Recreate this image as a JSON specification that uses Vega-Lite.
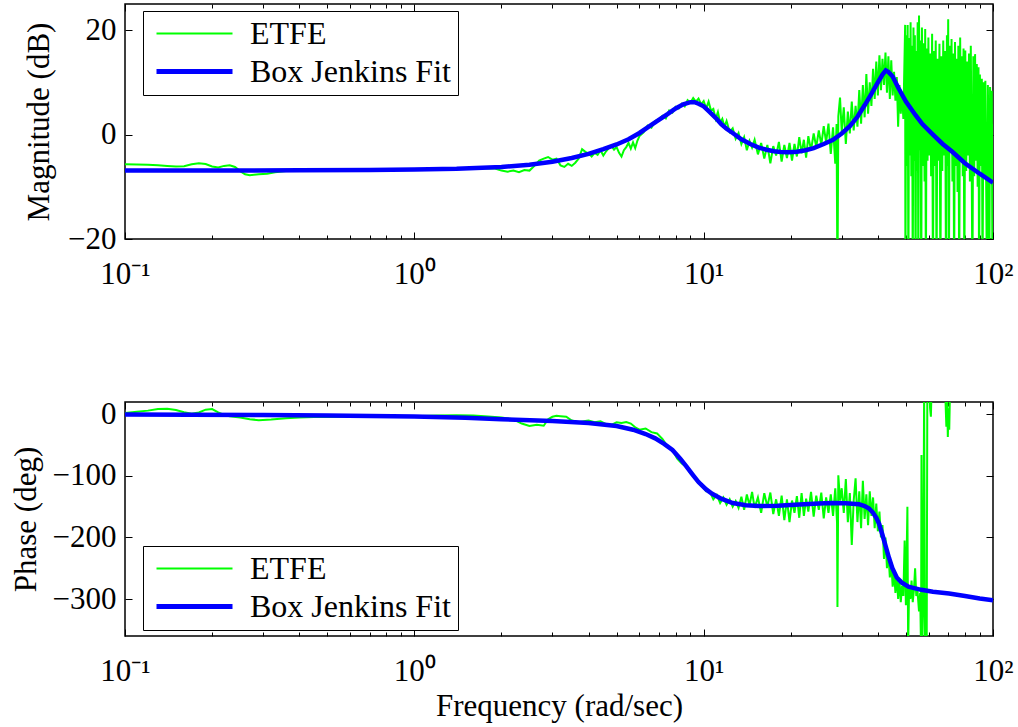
{
  "$schema": "https://vega.github.io/schema/vega-lite/v6.json",
  "background": "white",
  "padding": {"left": 9, "top": 2, "right": 10, "bottom": 5},
  "config": {
    "font": "Liberation Serif, Times New Roman, serif",
    "view": {"stroke": "black", "strokeWidth": 1.5},
    "axis": {
      "labelFont": "Liberation Serif, Times New Roman, serif", "labelFontSize": 31, "labelColor": "black",
      "titleFont": "Liberation Serif, Times New Roman, serif", "titleFontSize": 31, "titleFontWeight": "normal", "titleColor": "black",
      "tickColor": "black", "tickWidth": 1, "domain": false, "grid": false,
      "labelFlush": false, "labelOverlap": false
    },
    "legend": {
      "labelFont": "Liberation Serif, Times New Roman, serif", "labelFontSize": 32, "labelColor": "black", "labelLimit": 400,
      "strokeColor": "black", "fillColor": "white", "padding": 7, "rowPadding": 5,
      "clipHeight": 31, "symbolType": "stroke", "symbolSize": 5776, "symbolOffset": 4, "labelOffset": 15
    }
  },
  "datasets": {
    "magEtfe": [
      {"f":0.1,"v":-5.7,"s":"ETFE"},{"f":0.11,"v":-5.75,"s":"ETFE"},{"f":0.12,"v":-5.8,"s":"ETFE"},{"f":0.13,"v":-5.9,"s":"ETFE"},{"f":0.14,"v":-6.0,"s":"ETFE"},{"f":0.15,"v":-6.1,"s":"ETFE"},{"f":0.16,"v":-6.05,"s":"ETFE"},{"f":0.17,"v":-5.7,"s":"ETFE"},{"f":0.18,"v":-5.5,"s":"ETFE"},{"f":0.19,"v":-5.65,"s":"ETFE"},{"f":0.2,"v":-6.1,"s":"ETFE"},{"f":0.21,"v":-6.3,"s":"ETFE"},{"f":0.22,"v":-6.0,"s":"ETFE"},{"f":0.23,"v":-5.9,"s":"ETFE"},{"f":0.24,"v":-6.2,"s":"ETFE"},{"f":0.25,"v":-7.0,"s":"ETFE"},{"f":0.26,"v":-7.6,"s":"ETFE"},{"f":0.27,"v":-7.8,"s":"ETFE"},{"f":0.29,"v":-7.6,"s":"ETFE"},{"f":0.31,"v":-7.5,"s":"ETFE"},{"f":0.33,"v":-7.2,"s":"ETFE"},{"f":0.36,"v":-7.0,"s":"ETFE"},{"f":0.4,"v":-7.0,"s":"ETFE"},{"f":0.5,"v":-7.0,"s":"ETFE"},{"f":0.6,"v":-6.9,"s":"ETFE"},{"f":0.7,"v":-6.9,"s":"ETFE"},{"f":0.8,"v":-6.85,"s":"ETFE"},{"f":0.9,"v":-6.8,"s":"ETFE"},
      {"f":1,"v":-6.75,"s":"ETFE"},{"f":1.1,"v":-6.7,"s":"ETFE"},{"f":1.2,"v":-6.65,"s":"ETFE"},{"f":1.3,"v":-6.7,"s":"ETFE"},{"f":1.4,"v":-6.6,"s":"ETFE"},{"f":1.5,"v":-6.5,"s":"ETFE"},{"f":1.6,"v":-6.6,"s":"ETFE"},{"f":1.7,"v":-6.4,"s":"ETFE"},{"f":1.8,"v":-6.5,"s":"ETFE"},{"f":1.9,"v":-6.5,"s":"ETFE"},{"f":2,"v":-6.9,"s":"ETFE"},{"f":2.1,"v":-7.1,"s":"ETFE"},{"f":2.2,"v":-6.9,"s":"ETFE"},{"f":2.3,"v":-7.2,"s":"ETFE"},{"f":2.4,"v":-6.8,"s":"ETFE"},{"f":2.5,"v":-6.9,"s":"ETFE"},{"f":2.6,"v":-6.0,"s":"ETFE"},{"f":2.7,"v":-5.0,"s":"ETFE"},{"f":2.8,"v":-4.6,"s":"ETFE"},{"f":2.9,"v":-4.3,"s":"ETFE"},{"f":3,"v":-4.8,"s":"ETFE"},{"f":3.1,"v":-4.6,"s":"ETFE"},{"f":3.2,"v":-5.9,"s":"ETFE"},{"f":3.3,"v":-6.2,"s":"ETFE"},{"f":3.4,"v":-5.6,"s":"ETFE"},{"f":3.5,"v":-6.0,"s":"ETFE"},{"f":3.6,"v":-5.4,"s":"ETFE"},{"f":3.7,"v":-4.6,"s":"ETFE"},{"f":3.8,"v":-2.8,"s":"ETFE"},{"f":3.9,"v":-3.3,"s":"ETFE"},
      {"f":4,"v":-3.6,"s":"ETFE"},{"f":4.1,"v":-4.2,"s":"ETFE"},{"f":4.2,"v":-3.5,"s":"ETFE"},{"f":4.3,"v":-3.9,"s":"ETFE"},{"f":4.4,"v":-3.0,"s":"ETFE"},{"f":4.5,"v":-4.0,"s":"ETFE"},{"f":4.6,"v":-3.2,"s":"ETFE"},{"f":4.7,"v":-2.6,"s":"ETFE"},{"f":4.8,"v":-2.2,"s":"ETFE"},{"f":4.9,"v":-2.9,"s":"ETFE"},{"f":5,"v":-2.4,"s":"ETFE"},{"f":5.1,"v":-3.5,"s":"ETFE"},{"f":5.2,"v":-4.2,"s":"ETFE"},{"f":5.3,"v":-3.0,"s":"ETFE"},{"f":5.4,"v":-2.4,"s":"ETFE"},{"f":5.5,"v":-1.6,"s":"ETFE"},{"f":5.6,"v":-2.7,"s":"ETFE"},{"f":5.7,"v":-1.5,"s":"ETFE"},{"f":5.8,"v":-2.6,"s":"ETFE"},{"f":5.9,"v":-1.2,"s":"ETFE"},{"f":6,"v":-0.3,"s":"ETFE"},{"f":6.2,"v":0.4,"s":"ETFE"},{"f":6.4,"v":1.7,"s":"ETFE"},{"f":6.6,"v":1.3,"s":"ETFE"},{"f":6.8,"v":2.6,"s":"ETFE"},{"f":7,"v":2.9,"s":"ETFE"},{"f":7.2,"v":3.6,"s":"ETFE"},{"f":7.4,"v":3.1,"s":"ETFE"},{"f":7.6,"v":4.6,"s":"ETFE"},{"f":7.8,"v":4.2,"s":"ETFE"},{"f":8,"v":5.3,"s":"ETFE"},{"f":8.2,"v":5.0,"s":"ETFE"},{"f":8.4,"v":5.9,"s":"ETFE"},{"f":8.6,"v":5.4,"s":"ETFE"},{"f":8.8,"v":6.6,"s":"ETFE"},{"f":9,"v":6.1,"s":"ETFE"},{"f":9.2,"v":7.0,"s":"ETFE"},{"f":9.4,"v":6.3,"s":"ETFE"},{"f":9.6,"v":6.9,"s":"ETFE"},{"f":9.8,"v":5.8,"s":"ETFE"},
      {"f":10,"v":6.4,"s":"ETFE"},{"f":10.2,"v":5.0,"s":"ETFE"},{"f":10.4,"v":6.3,"s":"ETFE"},{"f":10.6,"v":4.6,"s":"ETFE"},{"f":10.8,"v":4.9,"s":"ETFE"},{"f":11,"v":3.0,"s":"ETFE"},{"f":11.2,"v":4.3,"s":"ETFE"},{"f":11.4,"v":2.3,"s":"ETFE"},{"f":11.6,"v":3.0,"s":"ETFE"},{"f":11.8,"v":1.5,"s":"ETFE"},{"f":12,"v":2.6,"s":"ETFE"},{"f":12.3,"v":0.5,"s":"ETFE"},{"f":12.6,"v":1.2,"s":"ETFE"},{"f":12.9,"v":-0.8,"s":"ETFE"},{"f":13.2,"v":0.3,"s":"ETFE"},{"f":13.5,"v":-1.8,"s":"ETFE"},{"f":13.8,"v":-0.5,"s":"ETFE"},{"f":14.1,"v":-3.0,"s":"ETFE"},{"f":14.4,"v":-1.2,"s":"ETFE"},{"f":14.7,"v":-2.5,"s":"ETFE"},{"f":15,"v":-1.0,"s":"ETFE"},{"f":15.4,"v":-3.8,"s":"ETFE"},{"f":15.8,"v":-1.6,"s":"ETFE"},{"f":16.2,"v":-4.6,"s":"ETFE"},{"f":16.6,"v":-2.0,"s":"ETFE"},{"f":17,"v":-5.5,"s":"ETFE"},{"f":17.4,"v":-2.2,"s":"ETFE"},{"f":17.8,"v":-4.0,"s":"ETFE"},{"f":18.2,"v":-1.4,"s":"ETFE"},{"f":18.6,"v":-5.2,"s":"ETFE"},{"f":19,"v":-2.0,"s":"ETFE"},{"f":19.4,"v":-4.5,"s":"ETFE"},{"f":19.8,"v":-1.6,"s":"ETFE"},
      {"f":20.2,"v":-5.0,"s":"ETFE"},{"f":20.6,"v":-1.8,"s":"ETFE"},{"f":21,"v":-4.2,"s":"ETFE"},{"f":21.4,"v":-0.5,"s":"ETFE"},{"f":21.8,"v":-3.6,"s":"ETFE"},{"f":22.2,"v":-1.0,"s":"ETFE"},{"f":22.6,"v":-4.4,"s":"ETFE"},{"f":23,"v":-0.3,"s":"ETFE"},{"f":23.5,"v":-3.0,"s":"ETFE"},{"f":24,"v":0.2,"s":"ETFE"},{"f":24.5,"v":-2.4,"s":"ETFE"},{"f":25,"v":0.8,"s":"ETFE"},{"f":25.5,"v":-2.0,"s":"ETFE"},{"f":26,"v":1.6,"s":"ETFE"},{"f":26.5,"v":-1.5,"s":"ETFE"},{"f":27,"v":2.1,"s":"ETFE"},{"f":27.5,"v":-3.7,"s":"ETFE"},{"f":28,"v":1.4,"s":"ETFE"},{"f":28.5,"v":-5.6,"s":"ETFE"},{"f":28.8,"v":2.0,"s":"ETFE"},{"f":29,"v":-30,"s":"ETFE"},{"f":29.2,"v":3.5,"s":"ETFE"},{"f":29.6,"v":7.1,"s":"ETFE"},
      {"f":30,"v":0.5,"s":"ETFE"},{"f":30.5,"v":5.2,"s":"ETFE"},{"f":31,"v":-1.8,"s":"ETFE"},{"f":31.5,"v":4.4,"s":"ETFE"},{"f":32,"v":0.2,"s":"ETFE"},{"f":32.5,"v":6.3,"s":"ETFE"},{"f":33,"v":0.8,"s":"ETFE"},{"f":33.5,"v":5.5,"s":"ETFE"},{"f":34,"v":1.5,"s":"ETFE"},{"f":34.5,"v":8.5,"s":"ETFE"},{"f":35,"v":2.1,"s":"ETFE"},{"f":35.5,"v":9.5,"s":"ETFE"},{"f":36,"v":3.3,"s":"ETFE"},{"f":36.5,"v":11.6,"s":"ETFE"},{"f":37,"v":4.0,"s":"ETFE"},{"f":37.5,"v":10.0,"s":"ETFE"},{"f":38,"v":5.5,"s":"ETFE"},{"f":38.5,"v":12.6,"s":"ETFE"},{"f":39,"v":6.8,"s":"ETFE"},{"f":39.5,"v":14.0,"s":"ETFE"},
      {"f":40,"v":7.5,"s":"ETFE"},{"f":40.5,"v":15.2,"s":"ETFE"},{"f":41,"v":8.5,"s":"ETFE"},{"f":41.5,"v":14.5,"s":"ETFE"},{"f":42,"v":9.5,"s":"ETFE"},{"f":42.5,"v":15.7,"s":"ETFE"},{"f":43,"v":8.0,"s":"ETFE"},{"f":43.5,"v":15.0,"s":"ETFE"},{"f":44,"v":6.8,"s":"ETFE"},{"f":44.5,"v":14.2,"s":"ETFE"},{"f":45,"v":7.5,"s":"ETFE"},{"f":45.5,"v":12.0,"s":"ETFE"},{"f":46,"v":6.5,"s":"ETFE"},{"f":46.5,"v":11.0,"s":"ETFE"},{"f":47,"v":1.5,"s":"ETFE"},{"f":47.5,"v":9.5,"s":"ETFE"},{"f":48,"v":4.0,"s":"ETFE"},{"f":48.5,"v":8.0,"s":"ETFE"},{"f":49,"v":3.0,"s":"ETFE"},{"f":49.7,"v":21.0,"s":"ETFE"},
      {"f":49.8,"v":-30,"s":"ETFE"},{"f":50.1,"v":19.0,"s":"ETFE"},{"f":50.4,"v":-6,"s":"ETFE"},{"f":50.7,"v":21.0,"s":"ETFE"},{"f":51.0,"v":-30,"s":"ETFE"},{"f":51.3,"v":18.5,"s":"ETFE"},{"f":51.6,"v":-4,"s":"ETFE"},{"f":51.9,"v":21.5,"s":"ETFE"},{"f":52.2,"v":-8,"s":"ETFE"},{"f":52.5,"v":17.0,"s":"ETFE"},{"f":52.8,"v":-30,"s":"ETFE"},{"f":53.1,"v":20.5,"s":"ETFE"},{"f":53.4,"v":-5,"s":"ETFE"},{"f":53.7,"v":19.0,"s":"ETFE"},{"f":54.0,"v":-30,"s":"ETFE"},{"f":54.3,"v":16.0,"s":"ETFE"},{"f":54.6,"v":-7,"s":"ETFE"},{"f":54.9,"v":21.5,"s":"ETFE"},{"f":55.2,"v":-30,"s":"ETFE"},{"f":55.5,"v":22.8,"s":"ETFE"},{"f":55.8,"v":-3,"s":"ETFE"},{"f":56.1,"v":18.0,"s":"ETFE"},{"f":56.5,"v":-30,"s":"ETFE"},{"f":56.8,"v":20.5,"s":"ETFE"},{"f":57.2,"v":-6,"s":"ETFE"},{"f":57.6,"v":17.5,"s":"ETFE"},{"f":58.0,"v":-9,"s":"ETFE"},{"f":58.3,"v":20.2,"s":"ETFE"},{"f":58.6,"v":-30,"s":"ETFE"},{"f":59.0,"v":16.5,"s":"ETFE"},{"f":59.4,"v":-5,"s":"ETFE"},{"f":59.8,"v":18.6,"s":"ETFE"},
      {"f":60.2,"v":-4,"s":"ETFE"},{"f":60.7,"v":15.5,"s":"ETFE"},{"f":61.1,"v":-8,"s":"ETFE"},{"f":61.6,"v":19.3,"s":"ETFE"},{"f":62.0,"v":-30,"s":"ETFE"},{"f":62.5,"v":16.0,"s":"ETFE"},{"f":62.9,"v":-6,"s":"ETFE"},{"f":63.4,"v":18.0,"s":"ETFE"},{"f":63.8,"v":-30,"s":"ETFE"},{"f":64.3,"v":14.5,"s":"ETFE"},{"f":64.8,"v":-5,"s":"ETFE"},{"f":65.3,"v":17.4,"s":"ETFE"},{"f":65.8,"v":-30,"s":"ETFE"},{"f":66.3,"v":15.0,"s":"ETFE"},{"f":66.8,"v":-7,"s":"ETFE"},{"f":67.3,"v":18.0,"s":"ETFE"},{"f":67.8,"v":-4,"s":"ETFE"},{"f":68.3,"v":16.0,"s":"ETFE"},{"f":68.8,"v":-30,"s":"ETFE"},{"f":69.3,"v":19.0,"s":"ETFE"},{"f":69.7,"v":-6,"s":"ETFE"},{"f":70.0,"v":22.1,"s":"ETFE"},{"f":70.4,"v":-30,"s":"ETFE"},{"f":70.9,"v":17.0,"s":"ETFE"},{"f":71.4,"v":-3,"s":"ETFE"},{"f":71.9,"v":18.3,"s":"ETFE"},{"f":72.4,"v":-9,"s":"ETFE"},{"f":72.9,"v":15.5,"s":"ETFE"},{"f":73.4,"v":-30,"s":"ETFE"},{"f":73.9,"v":17.7,"s":"ETFE"},{"f":74.4,"v":-6,"s":"ETFE"},{"f":74.9,"v":14.5,"s":"ETFE"},{"f":75.4,"v":-11,"s":"ETFE"},{"f":75.9,"v":17.0,"s":"ETFE"},{"f":76.4,"v":-30,"s":"ETFE"},{"f":77.0,"v":18.6,"s":"ETFE"},{"f":77.5,"v":-5,"s":"ETFE"},{"f":78.0,"v":15.0,"s":"ETFE"},{"f":78.6,"v":-8,"s":"ETFE"},{"f":79.1,"v":16.5,"s":"ETFE"},{"f":79.6,"v":-30,"s":"ETFE"},
      {"f":80.2,"v":16.1,"s":"ETFE"},{"f":80.8,"v":-7,"s":"ETFE"},{"f":81.4,"v":14.0,"s":"ETFE"},{"f":82.0,"v":-4,"s":"ETFE"},{"f":82.6,"v":15.5,"s":"ETFE"},{"f":83.2,"v":-9,"s":"ETFE"},{"f":83.8,"v":17.0,"s":"ETFE"},{"f":84.4,"v":-6,"s":"ETFE"},{"f":84.9,"v":-30,"s":"ETFE"},{"f":85.5,"v":15.0,"s":"ETFE"},{"f":86.1,"v":-8,"s":"ETFE"},{"f":86.7,"v":15.4,"s":"ETFE"},{"f":87.3,"v":-5,"s":"ETFE"},{"f":87.9,"v":13.5,"s":"ETFE"},{"f":88.5,"v":-10,"s":"ETFE"},{"f":89.1,"v":12.9,"s":"ETFE"},{"f":89.5,"v":-30,"s":"ETFE"},{"f":90.1,"v":11.5,"s":"ETFE"},{"f":90.8,"v":-6,"s":"ETFE"},{"f":91.5,"v":10.7,"s":"ETFE"},{"f":92.0,"v":-30,"s":"ETFE"},{"f":92.7,"v":10.0,"s":"ETFE"},{"f":93.4,"v":-8,"s":"ETFE"},{"f":94.1,"v":10.3,"s":"ETFE"},{"f":94.8,"v":-12,"s":"ETFE"},{"f":95.3,"v":-30,"s":"ETFE"},{"f":96.0,"v":9.5,"s":"ETFE"},{"f":96.7,"v":-7,"s":"ETFE"},{"f":97.1,"v":-30,"s":"ETFE"},{"f":97.7,"v":9.1,"s":"ETFE"},{"f":98.4,"v":-9,"s":"ETFE"},{"f":99.0,"v":8.4,"s":"ETFE"},{"f":99.6,"v":-30,"s":"ETFE"},{"f":100,"v":2,"s":"ETFE"}
    ],
    "magFit": [
      {"f":0.1,"v":-6.9},{"f":0.2,"v":-6.9},{"f":0.4,"v":-6.85},{"f":0.7,"v":-6.8},{"f":1,"v":-6.7},{"f":1.4,"v":-6.55},{"f":2,"v":-6.2},{"f":2.5,"v":-5.8},{"f":3,"v":-5.2},{"f":3.5,"v":-4.5},{"f":4,"v":-3.7},{"f":4.5,"v":-2.8},{"f":5,"v":-1.9},{"f":5.5,"v":-0.9},{"f":6,"v":0.3},{"f":6.5,"v":1.6},{"f":7,"v":2.8},{"f":7.5,"v":3.9},{"f":8,"v":5.0},{"f":8.5,"v":5.8},{"f":9,"v":6.2},{"f":9.3,"v":6.2},{"f":9.6,"v":5.9},{"f":10,"v":5.4},{"f":10.5,"v":4.3},{"f":11,"v":3.2},{"f":11.5,"v":2.0},{"f":12,"v":1.1},{"f":12.6,"v":0.3},{"f":13.5,"v":-0.9},{"f":14.5,"v":-1.8},{"f":15.5,"v":-2.5},{"f":16.5,"v":-2.9},{"f":17.5,"v":-3.2},{"f":18.5,"v":-3.35},{"f":19.7,"v":-3.4},{"f":21,"v":-3.3},{"f":22.5,"v":-3.0},{"f":24,"v":-2.6},{"f":26,"v":-1.8},{"f":28,"v":-1.0},{"f":30,"v":0.2},{"f":32,"v":1.6},{"f":34,"v":3.4},{"f":36,"v":5.6},{"f":38,"v":7.8},{"f":40,"v":10.0},{"f":41.5,"v":11.5},{"f":42.6,"v":12.3},{"f":43.5,"v":12.0},{"f":45,"v":11.1},{"f":47,"v":9.0},{"f":50,"v":6.3},{"f":54,"v":3.7},{"f":57,"v":2.0},{"f":62,"v":0.0},{"f":67,"v":-1.8},{"f":72,"v":-3.2},{"f":80,"v":-5.5},{"f":90,"v":-7.5},{"f":100,"v":-9.2}
    ],
    "phEtfe": [
      {"f":0.1,"v":2,"s":"ETFE"},{"f":0.11,"v":4,"s":"ETFE"},{"f":0.12,"v":6,"s":"ETFE"},{"f":0.13,"v":8.5,"s":"ETFE"},{"f":0.14,"v":9,"s":"ETFE"},{"f":0.15,"v":7,"s":"ETFE"},{"f":0.16,"v":3.5,"s":"ETFE"},{"f":0.17,"v":1,"s":"ETFE"},{"f":0.18,"v":3,"s":"ETFE"},{"f":0.19,"v":7.5,"s":"ETFE"},{"f":0.2,"v":8.5,"s":"ETFE"},{"f":0.21,"v":3,"s":"ETFE"},{"f":0.22,"v":-1,"s":"ETFE"},{"f":0.23,"v":-3,"s":"ETFE"},{"f":0.25,"v":-5,"s":"ETFE"},{"f":0.27,"v":-8,"s":"ETFE"},{"f":0.29,"v":-9.5,"s":"ETFE"},{"f":0.32,"v":-8.5,"s":"ETFE"},{"f":0.36,"v":-6.5,"s":"ETFE"},{"f":0.4,"v":-5,"s":"ETFE"},{"f":0.45,"v":-4.5,"s":"ETFE"},{"f":0.5,"v":-4.5,"s":"ETFE"},{"f":0.6,"v":-4,"s":"ETFE"},{"f":0.8,"v":-3,"s":"ETFE"},
      {"f":1,"v":-3,"s":"ETFE"},{"f":1.2,"v":-2,"s":"ETFE"},{"f":1.4,"v":-1.5,"s":"ETFE"},{"f":1.6,"v":-2,"s":"ETFE"},{"f":1.8,"v":-3.5,"s":"ETFE"},{"f":2,"v":-5,"s":"ETFE"},{"f":2.2,"v":-8,"s":"ETFE"},{"f":2.35,"v":-15,"s":"ETFE"},{"f":2.5,"v":-19,"s":"ETFE"},{"f":2.65,"v":-17,"s":"ETFE"},{"f":2.8,"v":-18.5,"s":"ETFE"},{"f":2.9,"v":-8,"s":"ETFE"},{"f":3,"v":-4,"s":"ETFE"},{"f":3.1,"v":-2.5,"s":"ETFE"},{"f":3.2,"v":-3,"s":"ETFE"},{"f":3.35,"v":-4,"s":"ETFE"},{"f":3.5,"v":-10,"s":"ETFE"},{"f":3.7,"v":-13,"s":"ETFE"},{"f":3.9,"v":-11,"s":"ETFE"},{"f":4,"v":-10,"s":"ETFE"},{"f":4.2,"v":-13,"s":"ETFE"},{"f":4.4,"v":-11.5,"s":"ETFE"},{"f":4.6,"v":-16,"s":"ETFE"},{"f":4.8,"v":-17,"s":"ETFE"},{"f":5,"v":-13,"s":"ETFE"},{"f":5.2,"v":-14,"s":"ETFE"},{"f":5.4,"v":-12.5,"s":"ETFE"},{"f":5.6,"v":-15,"s":"ETFE"},{"f":5.8,"v":-21,"s":"ETFE"},{"f":6,"v":-25,"s":"ETFE"},{"f":6.3,"v":-23,"s":"ETFE"},{"f":6.6,"v":-29,"s":"ETFE"},{"f":6.9,"v":-31,"s":"ETFE"},{"f":7.2,"v":-40,"s":"ETFE"},{"f":7.5,"v":-52,"s":"ETFE"},{"f":7.8,"v":-58,"s":"ETFE"},{"f":8.1,"v":-72,"s":"ETFE"},{"f":8.4,"v":-80,"s":"ETFE"},{"f":8.7,"v":-85,"s":"ETFE"},{"f":9,"v":-96,"s":"ETFE"},{"f":9.3,"v":-102,"s":"ETFE"},{"f":9.6,"v":-112,"s":"ETFE"},{"f":9.9,"v":-116,"s":"ETFE"},
      {"f":10.2,"v":-125,"s":"ETFE"},{"f":10.5,"v":-125,"s":"ETFE"},{"f":10.8,"v":-138,"s":"ETFE"},{"f":11.1,"v":-131,"s":"ETFE"},{"f":11.4,"v":-144,"s":"ETFE"},{"f":11.7,"v":-135,"s":"ETFE"},{"f":12,"v":-147,"s":"ETFE"},{"f":12.3,"v":-138,"s":"ETFE"},{"f":12.6,"v":-150,"s":"ETFE"},{"f":12.9,"v":-141,"s":"ETFE"},{"f":13.2,"v":-152,"s":"ETFE"},{"f":13.5,"v":-134,"s":"ETFE"},{"f":13.8,"v":-155,"s":"ETFE"},{"f":14.1,"v":-130,"s":"ETFE"},{"f":14.4,"v":-148,"s":"ETFE"},{"f":14.7,"v":-126,"s":"ETFE"},{"f":15,"v":-152,"s":"ETFE"},{"f":15.4,"v":-135,"s":"ETFE"},{"f":15.8,"v":-160,"s":"ETFE"},{"f":16.2,"v":-128,"s":"ETFE"},{"f":16.6,"v":-150,"s":"ETFE"},{"f":17,"v":-127,"s":"ETFE"},{"f":17.4,"v":-162,"s":"ETFE"},{"f":17.8,"v":-138,"s":"ETFE"},{"f":18.2,"v":-165,"s":"ETFE"},{"f":18.6,"v":-132,"s":"ETFE"},{"f":19,"v":-172,"s":"ETFE"},{"f":19.4,"v":-138,"s":"ETFE"},{"f":19.8,"v":-175,"s":"ETFE"},
      {"f":20.2,"v":-140,"s":"ETFE"},{"f":20.6,"v":-160,"s":"ETFE"},{"f":21,"v":-133,"s":"ETFE"},{"f":21.4,"v":-168,"s":"ETFE"},{"f":21.8,"v":-128,"s":"ETFE"},{"f":22.2,"v":-165,"s":"ETFE"},{"f":22.6,"v":-137,"s":"ETFE"},{"f":23,"v":-158,"s":"ETFE"},{"f":23.5,"v":-126,"s":"ETFE"},{"f":24,"v":-166,"s":"ETFE"},{"f":24.5,"v":-132,"s":"ETFE"},{"f":25,"v":-155,"s":"ETFE"},{"f":25.5,"v":-127,"s":"ETFE"},{"f":26,"v":-169,"s":"ETFE"},{"f":26.5,"v":-135,"s":"ETFE"},{"f":27,"v":-160,"s":"ETFE"},{"f":27.5,"v":-130,"s":"ETFE"},{"f":28,"v":-165,"s":"ETFE"},{"f":28.5,"v":-120,"s":"ETFE"},{"f":28.9,"v":-175,"s":"ETFE"},{"f":29,"v":-313,"s":"ETFE"},{"f":29.2,"v":-99,"s":"ETFE"},{"f":29.6,"v":-140,"s":"ETFE"},
      {"f":30,"v":-120,"s":"ETFE"},{"f":30.5,"v":-160,"s":"ETFE"},{"f":31,"v":-105,"s":"ETFE"},{"f":31.5,"v":-175,"s":"ETFE"},{"f":32,"v":-128,"s":"ETFE"},{"f":32.5,"v":-212,"s":"ETFE"},{"f":33,"v":-140,"s":"ETFE"},{"f":33.5,"v":-104,"s":"ETFE"},{"f":34,"v":-175,"s":"ETFE"},{"f":34.5,"v":-125,"s":"ETFE"},{"f":35,"v":-185,"s":"ETFE"},{"f":35.5,"v":-108,"s":"ETFE"},{"f":36,"v":-170,"s":"ETFE"},{"f":36.5,"v":-130,"s":"ETFE"},{"f":37,"v":-180,"s":"ETFE"},{"f":37.5,"v":-125,"s":"ETFE"},{"f":38,"v":-165,"s":"ETFE"},{"f":38.5,"v":-135,"s":"ETFE"},{"f":39,"v":-185,"s":"ETFE"},{"f":39.5,"v":-145,"s":"ETFE"},
      {"f":40,"v":-190,"s":"ETFE"},{"f":40.5,"v":-158,"s":"ETFE"},{"f":41,"v":-200,"s":"ETFE"},{"f":41.5,"v":-180,"s":"ETFE"},{"f":42,"v":-235,"s":"ETFE"},{"f":42.5,"v":-200,"s":"ETFE"},{"f":43,"v":-250,"s":"ETFE"},{"f":43.5,"v":-225,"s":"ETFE"},{"f":44,"v":-265,"s":"ETFE"},{"f":44.5,"v":-240,"s":"ETFE"},{"f":45,"v":-280,"s":"ETFE"},{"f":45.5,"v":-255,"s":"ETFE"},{"f":46,"v":-290,"s":"ETFE"},{"f":46.5,"v":-262,"s":"ETFE"},{"f":47,"v":-300,"s":"ETFE"},{"f":47.5,"v":-270,"s":"ETFE"},{"f":48,"v":-305,"s":"ETFE"},{"f":48.5,"v":-278,"s":"ETFE"},{"f":49,"v":-295,"s":"ETFE"},{"f":49.5,"v":-205,"s":"ETFE"},{"f":50,"v":-310,"s":"ETFE"},{"f":50.6,"v":-150,"s":"ETFE"},{"f":50.9,"v":-380,"s":"ETFE"},{"f":51.3,"v":-280,"s":"ETFE"},{"f":51.8,"v":-300,"s":"ETFE"},{"f":52.3,"v":-270,"s":"ETFE"},{"f":52.8,"v":-305,"s":"ETFE"},{"f":53.3,"v":-285,"s":"ETFE"},{"f":53.8,"v":-250,"s":"ETFE"},{"f":54.3,"v":-295,"s":"ETFE"},{"f":54.8,"v":-285,"s":"ETFE"},{"f":55.5,"v":-320,"s":"ETFE"},{"f":56,"v":-290,"s":"ETFE"},{"f":56.4,"v":-380,"s":"ETFE"},{"f":56.6,"v":-66,"s":"ETFE"},{"f":56.9,"v":-380,"s":"ETFE"},{"f":57.4,"v":-300,"s":"ETFE"},{"f":57.8,"v":40,"s":"ETFE"},{"f":58.2,"v":-380,"s":"ETFE"},{"f":58.6,"v":-330,"s":"ETFE"},{"f":59,"v":-380,"s":"ETFE"},{"f":59.3,"v":45,"s":"ETFE"},{"f":59.8,"v":25,"s":"ETFE"},
      {"f":60.2,"v":60,"s":"ETFE"},{"f":60.6,"v":10,"s":"ETFE"},{"f":61,"v":-4,"s":"ETFE"},{"f":61.4,"v":50,"s":"ETFE"},{"f":62,"v":60,"s":"ETFE"},{"f":65,"v":55,"s":"ETFE"},{"f":68.3,"v":50,"s":"ETFE"},{"f":68.6,"v":15,"s":"ETFE"},{"f":69,"v":-20,"s":"ETFE"},{"f":69.4,"v":30,"s":"ETFE"},{"f":69.8,"v":-37,"s":"ETFE"},{"f":70.2,"v":10,"s":"ETFE"},{"f":70.6,"v":-25,"s":"ETFE"},{"f":71,"v":35,"s":"ETFE"},{"f":71.4,"v":55,"s":"ETFE"},{"f":80,"v":65,"s":"ETFE"},{"f":100,"v":70,"s":"ETFE"}
    ],
    "phFit": [
      {"f":0.1,"v":-0.5},{"f":0.3,"v":-1.2},{"f":0.5,"v":-1.8},{"f":1,"v":-3.5},{"f":1.5,"v":-5.5},{"f":2,"v":-8},{"f":3,"v":-11},{"f":4,"v":-14},{"f":5,"v":-19},{"f":5.7,"v":-25},{"f":6.3,"v":-32},{"f":6.8,"v":-39},{"f":7.3,"v":-48},{"f":7.8,"v":-58},{"f":8.3,"v":-72},{"f":8.7,"v":-84},{"f":9.2,"v":-99},{"f":9.6,"v":-110},{"f":10.2,"v":-122},{"f":10.7,"v":-129},{"f":11.5,"v":-137},{"f":12.6,"v":-144},{"f":14,"v":-147.5},{"f":15.5,"v":-149},{"f":18,"v":-148.5},{"f":21.4,"v":-146.6},{"f":25,"v":-145},{"f":27.8,"v":-144},{"f":31,"v":-144.5},{"f":34.4,"v":-146},{"f":36,"v":-149},{"f":37.3,"v":-153},{"f":38.5,"v":-160},{"f":39.5,"v":-168},{"f":40.4,"v":-178},{"f":41.5,"v":-196},{"f":42.6,"v":-215},{"f":43.7,"v":-233},{"f":44.9,"v":-250},{"f":46.5,"v":-265},{"f":48.3,"v":-273},{"f":51,"v":-280},{"f":56.5,"v":-285},{"f":62,"v":-288},{"f":70.5,"v":-291},{"f":80,"v":-295},{"f":90,"v":-299},{"f":100,"v":-302}
    ]
  },
  "spacing": 104,
  "resolve": {"scale": {"strokeWidth": "independent"}},
  "vconcat": [
    {
      "width": 868,
      "height": 235,
      "resolve": {"axis": {"x": "independent", "y": "independent"}},
      "layer": [
        {
          "data": {"name": "magEtfe"},
          "mark": {"type": "line", "clip": true, "color": "#00ff00"},
          "encoding": {
            "x": {
              "field": "f", "type": "quantitative",
              "scale": {"type": "log", "domain": [0.1, 100], "nice": false},
              "axis": {
                "orient": "bottom", "title": null,
                "values": [0.1,0.2,0.3,0.4,0.5,0.6,0.7,0.8,0.9,1,2,3,4,5,6,7,8,9,10,20,30,40,50,60,70,80,90,100],
                "tickSize": {"condition": {"test": "datum.value == 0.1 || datum.value == 1 || datum.value == 10 || datum.value == 100", "value": -7}, "value": -4},
                "labelPadding": 27,
                "labelExpr": "datum.value == 0.1 ? '10⁻¹' : datum.value == 1 ? '10⁰' : datum.value == 10 ? '10¹' : datum.value == 100 ? '10²' : ''"
              }
            },
            "y": {
              "field": "v", "type": "quantitative",
              "scale": {"domain": [-20, 25], "nice": false},
              "axis": {"orient": "left", "values": [-20, 0, 20], "tickSize": -7, "labelPadding": 16, "title": "Magnitude (dB)", "titlePadding": 12}
            },
            "strokeWidth": {
              "field": "s", "type": "nominal",
              "scale": {"type": "ordinal", "domain": ["ETFE", "Box Jenkins Fit"], "range": [2, 5]},
              "legend": {
                "title": null, "orient": "none", "legendX": 18, "legendY": 7,
                "symbolStrokeColor": {"expr": "datum.value === 'ETFE' ? '#00ff00' : '#0000ff'"}
              }
            }
          }
        },
        {
          "data": {"name": "magFit"},
          "mark": {"type": "line", "clip": true, "strokeWidth": 4.5, "color": "#0000ff"},
          "encoding": {
            "x": {
              "field": "f", "type": "quantitative",
              "axis": {
                "orient": "top", "title": null, "labels": false,
                "values": [0.1,0.2,0.3,0.4,0.5,0.6,0.7,0.8,0.9,1,2,3,4,5,6,7,8,9,10,20,30,40,50,60,70,80,90,100],
                "tickSize": {"condition": {"test": "datum.value == 0.1 || datum.value == 1 || datum.value == 10 || datum.value == 100", "value": -7}, "value": -4}
              }
            },
            "y": {
              "field": "v", "type": "quantitative",
              "axis": {"orient": "right", "values": [-20, 0, 20], "tickSize": -7, "labels": false, "title": null}
            }
          }
        }
      ]
    },
    {
      "width": 868,
      "height": 234,
      "resolve": {"axis": {"x": "independent", "y": "independent"}},
      "layer": [
        {
          "data": {"name": "phEtfe"},
          "mark": {"type": "line", "clip": true, "color": "#00ff00"},
          "encoding": {
            "x": {
              "field": "f", "type": "quantitative",
              "scale": {"type": "log", "domain": [0.1, 100], "nice": false},
              "axis": {
                "orient": "bottom", "title": "Frequency (rad/sec)", "titlePadding": 2,
                "values": [0.1,0.2,0.3,0.4,0.5,0.6,0.7,0.8,0.9,1,2,3,4,5,6,7,8,9,10,20,30,40,50,60,70,80,90,100],
                "tickSize": {"condition": {"test": "datum.value == 0.1 || datum.value == 1 || datum.value == 10 || datum.value == 100", "value": -7}, "value": -4},
                "labelPadding": 27,
                "labelExpr": "datum.value == 0.1 ? '10⁻¹' : datum.value == 1 ? '10⁰' : datum.value == 10 ? '10¹' : datum.value == 100 ? '10²' : ''"
              }
            },
            "y": {
              "field": "v", "type": "quantitative",
              "scale": {"domain": [-360, 20], "nice": false},
              "axis": {"orient": "left", "values": [-300, -200, -100, 0], "tickSize": -7, "labelPadding": 16, "title": "Phase (deg)", "titlePadding": 9.5}
            },
            "strokeWidth": {
              "field": "s", "type": "nominal",
              "scale": {"type": "ordinal", "domain": ["ETFE", "Box Jenkins Fit"], "range": [2, 5]},
              "legend": {
                "title": null, "orient": "none", "legendX": 18, "legendY": 144,
                "symbolStrokeColor": {"expr": "datum.value === 'ETFE' ? '#00ff00' : '#0000ff'"}
              }
            }
          }
        },
        {
          "data": {"name": "phFit"},
          "mark": {"type": "line", "clip": true, "strokeWidth": 4.5, "color": "#0000ff"},
          "encoding": {
            "x": {
              "field": "f", "type": "quantitative",
              "axis": {
                "orient": "top", "title": null, "labels": false,
                "values": [0.1,0.2,0.3,0.4,0.5,0.6,0.7,0.8,0.9,1,2,3,4,5,6,7,8,9,10,20,30,40,50,60,70,80,90,100],
                "tickSize": {"condition": {"test": "datum.value == 0.1 || datum.value == 1 || datum.value == 10 || datum.value == 100", "value": -7}, "value": -4}
              }
            },
            "y": {
              "field": "v", "type": "quantitative",
              "axis": {"orient": "right", "values": [-300, -200, -100, 0], "tickSize": -7, "labels": false, "title": null}
            }
          }
        }
      ]
    }
  ]
}
